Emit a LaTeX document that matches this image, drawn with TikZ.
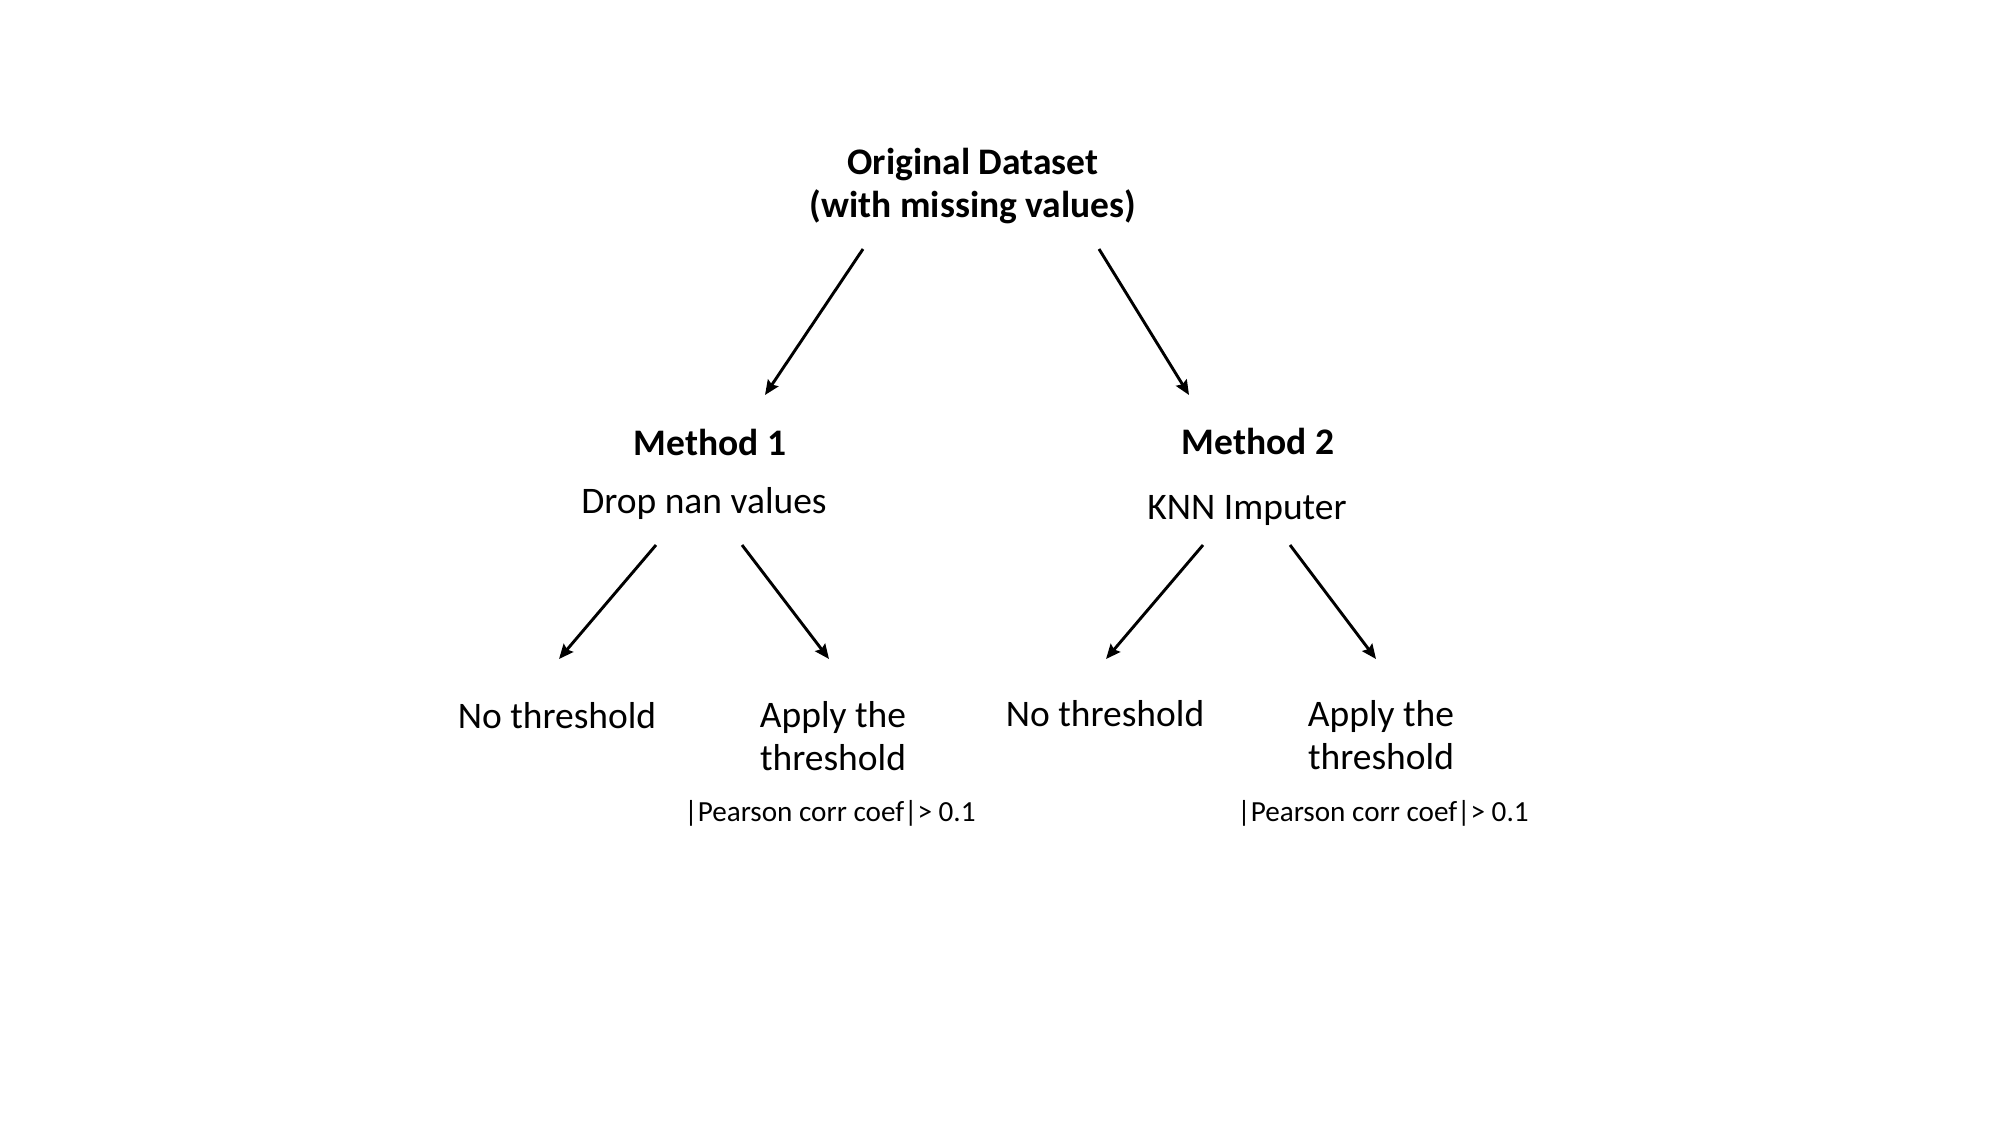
\documentclass[tikz,border=0pt]{standalone}
\usepackage{fontspec}
\setmainfont{Carlito}
\usetikzlibrary{arrows.meta,calc}
\begin{document}
\begin{tikzpicture}[x=0.48pt,y=-0.48pt,
  big/.style={font=\fontsize{18}{20.6}\selectfont,align=center,inner sep=0pt},
  bigb/.style={font=\fontsize{18}{20.6}\selectfont\bfseries,align=center,inner sep=0pt},
  small/.style={font=\fontsize{14}{16}\selectfont,inner sep=0pt},
  arr/.style={line width=1.4pt,-{Stealth[length=7pt,width=6pt,inset=1pt]}}]
\useasboundingbox (0,0) rectangle (2000,1125);
\node[bigb] (orig) at (973,186) {Original Dataset\\(with missing values)};
\node[bigb] (m1) at (710,442) {Method 1};
\node[big] (m1s) at (704,503) {Drop nan values};
\node[bigb] (m2) at (1258,441) {Method 2};
\node[big] (m2s) at (1247,510) {KNN Imputer};
\node[big] (l1) at (557,716) {No threshold};
\node[big] (r1) at (833,736) {Apply the\\threshold};
\node[small] (p1) at (830,813) {|Pearson corr coef|> 0.1};
\node[big] (l2) at (1105,714) {No threshold};
\node[big] (r2) at (1381,735) {Apply the\\threshold};
\node[small] (p2) at (1383,813) {|Pearson corr coef|> 0.1};
\draw[arr] ($(orig.center)+(-110,63)$) -- ($(m1.center)+(55,-47)$);
\draw[arr] ($(orig.center)+(126,63)$) -- ($(m2.center)+(-69,-46)$);
\draw[arr] ($(m1s.center)+(-48,42)$) -- ($(l1.center)+(2,-57)$);
\draw[arr] ($(m1s.center)+(38,42)$) -- ($(r1.center)+(-4,-77)$);
\draw[arr] ($(m2s.center)+(-44,35)$) -- ($(l2.center)+(1,-55)$);
\draw[arr] ($(m2s.center)+(43,35)$) -- ($(r2.center)+(-5,-76)$);
\end{tikzpicture}
\end{document}
